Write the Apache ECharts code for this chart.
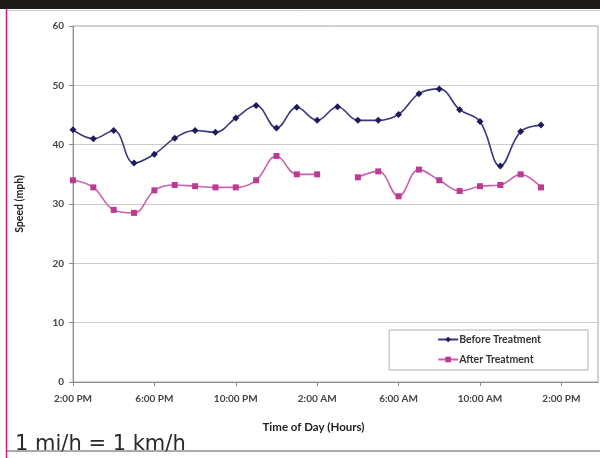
<!DOCTYPE html>
<html>
<head>
<meta charset="utf-8">
<script src="https://cdn.jsdelivr.net/npm/echarts@6/dist/echarts.min.js"></script>
<style>html,body{margin:0;padding:0;background:#fff}#c{width:600px;height:458px}</style>
</head>
<body>
<div id="c"></div>
<script>
// Hours after 2:00 PM (one count per hour)
const hours = [0,1,2,3,4,5,6,7,8,9,10,11,12,13,14,15,16,17,18,19,20,21,22,23];
const beforeTreatment = [42.5,41.0,42.4,36.9,38.4,41.1,42.4,42.1,44.5,46.6,42.8,46.3,44.1,46.4,44.1,44.1,45.1,48.6,49.4,45.9,43.9,36.4,42.2,43.3];
const afterTreatment  = [34.0,32.8,29.0,28.5,32.3,33.2,33.0,32.8,32.8,34.0,38.1,35.0,35.0,null,34.5,35.5,31.3,35.8,34.0,32.2,33.0,33.2,35.0,32.8];
const xTickLabels = ['2:00 PM','6:00 PM','10:00 PM','2:00 AM','6:00 AM','10:00 AM','2:00 PM'];
const yTicks = [0,10,20,30,40,50,60];

const chart = echarts.init(document.getElementById('c'), null, {renderer:'canvas'});
const lblFont = {fontFamily:'Lato', fontWeight:'bold', fontSize:10, color:'#444'};
chart.setOption({
  animation:false,
  backgroundColor:'#fff',
  grid:{left:73, right:2, top:26, bottom:76, show:true, borderColor:'#aaa6a6', borderWidth:1, backgroundColor:'transparent'},
  legend:{
    right:12, top:330,
    orient:'vertical', itemGap:9, itemWidth:20, itemHeight:7,
    padding:[4,47,5,48],
    borderColor:'#b8aeae', borderWidth:1, backgroundColor:'#fff',
    textStyle:{fontFamily:'Lato', fontWeight:'bold', fontSize:10.5, color:'#333', padding:[0,0,0,-4]},
    data:['Before Treatment','After Treatment']
  },
  xAxis:{
    type:'value', min:0, max:25.8, interval:4,
    name:'Time of Day (Hours)', nameLocation:'middle', nameGap:39,
    nameTextStyle:{fontFamily:'Lato', fontWeight:'bold', fontSize:11.5, color:'#222', padding:[0,44,0,0]},
    axisLine:{show:true, lineStyle:{color:'#8c8c8c'}},
    axisTick:{show:true, length:4, lineStyle:{color:'#8c8c8c'}},
    splitLine:{show:false},
    axisLabel:Object.assign({margin:12, showMaxLabel:false, formatter:function(v){return (v%4===0 && v/4 < xTickLabels.length) ? xTickLabels[v/4] : '';}}, lblFont)
  },
  yAxis:{
    type:'value', min:yTicks[0], max:yTicks[yTicks.length-1], interval:10,
    name:'Speed (mph)', nameLocation:'middle', nameGap:48,
    nameTextStyle:{fontFamily:'Lato', fontWeight:'bold', fontSize:10.5, color:'#222'},
    axisLine:{show:true, lineStyle:{color:'#8c8c8c'}},
    axisTick:{show:true, length:4, lineStyle:{color:'#8c8c8c'}},
    splitLine:{show:true, lineStyle:{color:'#d2cac8', width:1}},
    axisLabel:Object.assign({margin:9}, lblFont)
  },
  series:[
    {name:'Before Treatment', type:'line', smooth:0.4,
     data:hours.map((h,i)=>[h,beforeTreatment[i]]),
     symbol:'diamond', symbolSize:7,
     lineStyle:{color:'#3b3780', width:1.6},
     itemStyle:{color:'#1f1b5a'}},
    {name:'After Treatment', type:'line', smooth:0.4, connectNulls:false,
     data:hours.map((h,i)=>[h,afterTreatment[i]]),
     symbol:'rect', symbolSize:6,
     lineStyle:{color:'#c862ad', width:1.6},
     itemStyle:{color:'#bb3a93'}}
  ],
  graphic:[
    {type:'rect', shape:{x:0,y:0,width:600,height:9}, style:{fill:'#1e1a1a'}, z:10},
    {type:'line', shape:{x1:7,y1:10.5,x2:600,y2:10.5}, style:{stroke:'#d0cccc', lineWidth:1}, z:10},
    {type:'line', shape:{x1:6.5,y1:9,x2:6.5,y2:458}, style:{stroke:'#d81b72', lineWidth:1.5}, z:10},
    {type:'text', left:15, top:434, style:{text:'1 mi/h = 1 km/h', fontFamily:'DejaVu Sans', fontSize:21, fill:'#2a2a2a'}, z:10},
    {type:'line', shape:{x1:6,y1:451,x2:600,y2:451}, style:{stroke:'#555', lineWidth:1.2}, z:11}
  ]
});
</script>
</body>
</html>
